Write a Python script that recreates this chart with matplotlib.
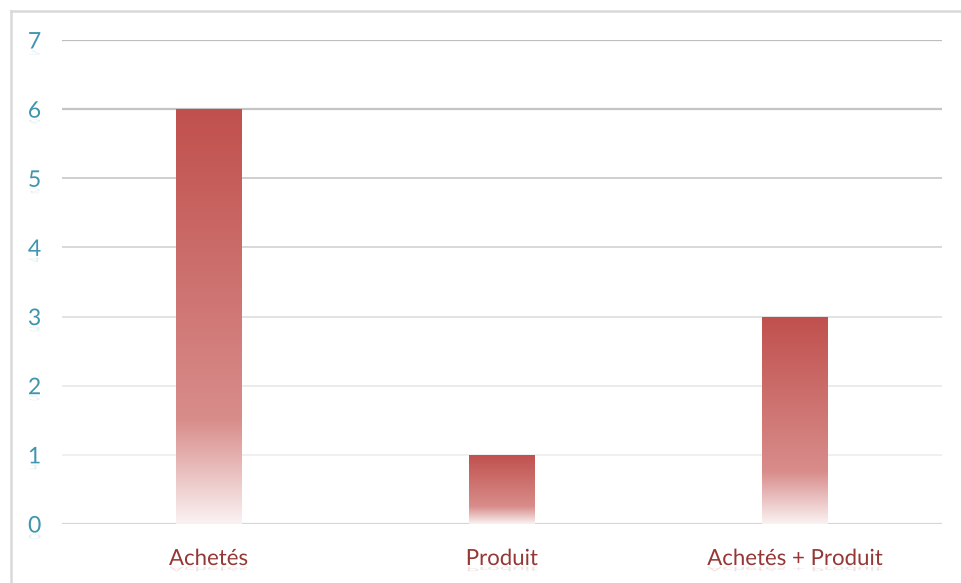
import numpy as np
import matplotlib
matplotlib.use("Agg")
import matplotlib.pyplot as plt
from matplotlib import patheffects
from matplotlib.transforms import Affine2D
from matplotlib.lines import Line2D

categories = ["Achetés", "Produit", "Achetés + Produit"]
values = [6, 1, 3]
yticks = [0, 1, 2, 3, 4, 5, 6, 7]

# grid shades, bottom line first
grid_colors = ["#D6D6D6", "#EFEFEF", "#E9E9E9", "#E1E1E1", "#D6D6D6", "#CBCBCB", "#C4C4C4", "#BEBEBE"]


class Reflect(patheffects.AbstractPathEffect):
    """Draws a faint squashed mirror copy of the text under its baseline."""

    def __init__(self, alpha=0.14, squash=0.28, gap=1.5):
        super().__init__()
        self.alpha = alpha
        self.squash = squash
        self.gap = gap

    def draw_path(self, renderer, gc, tpath, affine, rgbFace=None):
        y0 = tpath.get_extents(affine).y0
        mirror = affine + Affine2D().translate(0, -y0).scale(1, -self.squash).translate(0, y0 - self.gap)
        gc0 = renderer.new_gc()
        gc0.copy_properties(gc)
        gc0.set_alpha(self.alpha)
        face = None if rgbFace is None else (*rgbFace[:3], self.alpha)
        renderer.draw_path(gc0, tpath, mirror, face)
        gc0.restore()


fx = [Reflect(), patheffects.Normal()]

plt.rcParams["font.family"] = ["Lato", "DejaVu Sans"]

fig = plt.figure(figsize=(9.61, 5.83), dpi=100)
ax = fig.add_axes([62 / 961, 1 - 524 / 583, 880 / 961, 484 / 583])

x = np.arange(len(categories))
bars = ax.bar(x, values, width=0.225, color="none", edgecolor="none", zorder=3)

# vertical fade for the bars: dark red on top, near white at the base
stops = [(0.0, (250, 242, 242)), (0.25, (216, 141, 139)), (1.0, (192, 80, 77))]
t = np.linspace(0, 1, 256)
grad = np.zeros((256, 1, 3))
for c in range(3):
    grad[:, 0, c] = np.interp(t, [s[0] for s in stops], [s[1][c] for s in stops]) / 255.0

for b in bars:
    x0, y0 = b.get_x(), b.get_y()
    im = ax.imshow(grad, extent=[x0, x0 + b.get_width(), y0, y0 + b.get_height()],
                   origin="lower", aspect="auto", interpolation="bicubic", zorder=3)
    im.set_clip_path(b)

for yv, col in zip(yticks, grid_colors):
    ax.axhline(yv, color=col, lw=1.6 if yv in (0, 7, 6) else 1.3, zorder=1)

ax.set_xlim(-0.5, len(categories) - 0.5)
ax.set_ylim(0, 7)
ax.set_xticks(x)
ax.set_xticklabels(categories, fontsize=16, color="#953735")
ax.set_yticks(yticks)
ax.set_yticklabels([str(v) for v in yticks], fontsize=16.5, color="#3F95AE")
for lab in ax.get_xticklabels() + ax.get_yticklabels():
    lab.set_path_effects(fx)
ax.tick_params(axis="x", length=0, pad=18)
ax.tick_params(axis="y", length=0, pad=15)
for s in ax.spines.values():
    s.set_visible(False)

# chart frame, only the top and left edges fall inside the image
fig.add_artist(Line2D([10.5 / 961, 1], [1 - 11 / 583, 1 - 11 / 583], color="#D9D9D9", lw=1.8))
fig.add_artist(Line2D([10.5 / 961, 10.5 / 961], [0, 1 - 11 / 583], color="#D9D9D9", lw=1.8))

fig.savefig("out.png", dpi=100)
